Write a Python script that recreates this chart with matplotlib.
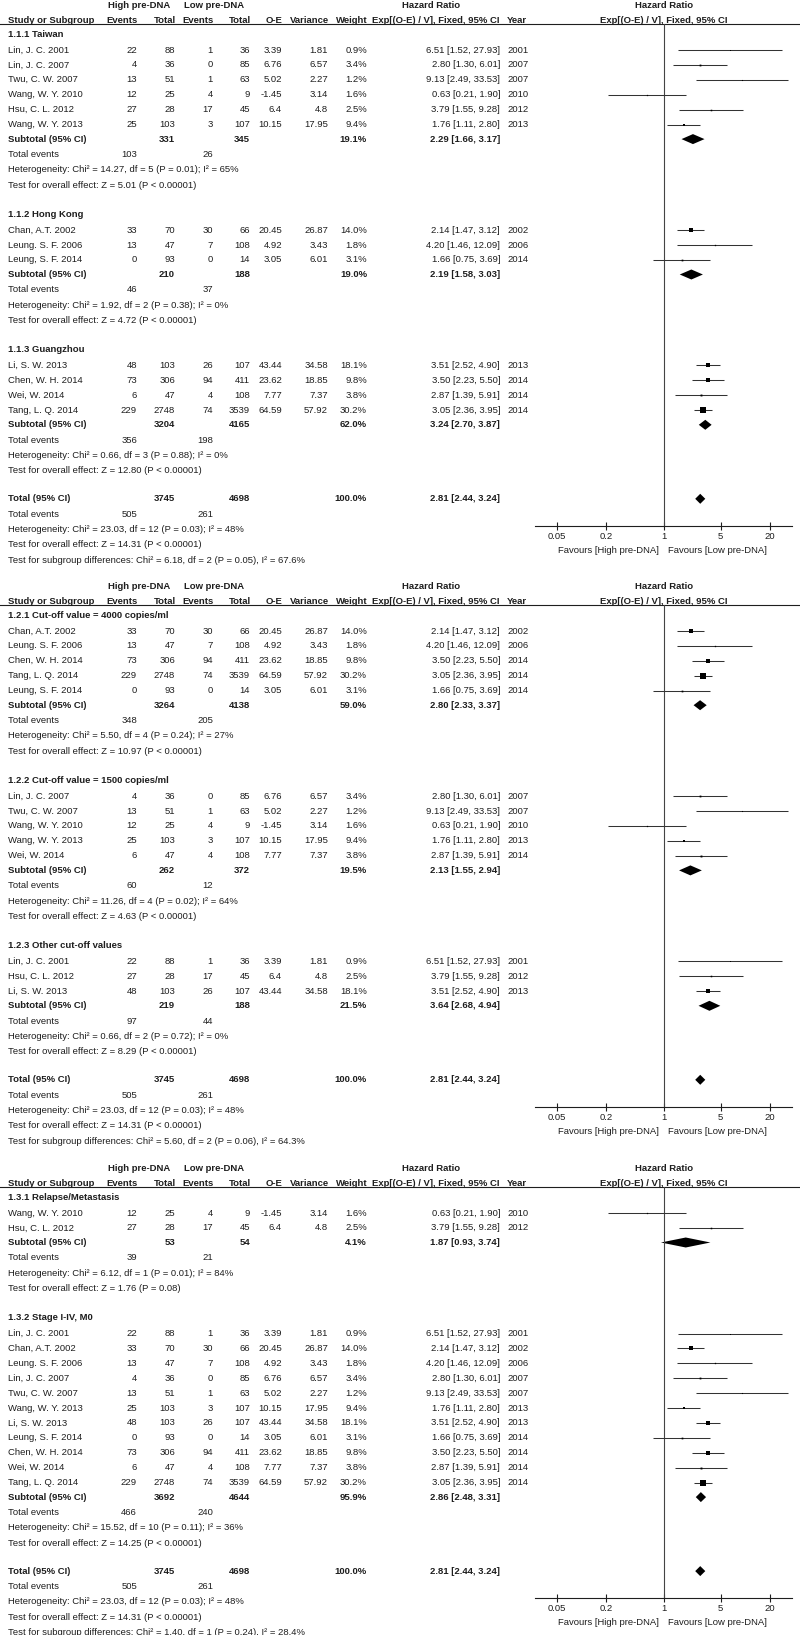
import matplotlib
matplotlib.use("Agg")
import matplotlib.pyplot as plt
import numpy as np

plt.rcParams["font.family"] = ["Liberation Sans", "DejaVu Sans"]

FS = 6.8
INK = "#1e1e1e"

# ---- study table (same 13 studies are reused in every panel) ----
study_names = [
    "Lin, J. C. 2001", "Lin, J. C. 2007", "Twu, C. W. 2007", "Wang, W. Y. 2010",
    "Hsu, C. L. 2012", "Wang, W. Y. 2013", "Chan, A.T. 2002", "Leung. S. F. 2006",
    "Leung, S. F. 2014", "Li, S. W. 2013", "Chen, W. H. 2014", "Wei, W. 2014",
    "Tang, L. Q. 2014",
]
high_events = [22, 4, 13, 12, 27, 25, 33, 13, 0, 48, 73, 6, 229]
high_total = [88, 36, 51, 25, 28, 103, 70, 47, 93, 103, 306, 47, 2748]
low_events = [1, 0, 1, 4, 17, 3, 30, 7, 0, 26, 94, 4, 74]
low_total = [36, 85, 63, 9, 45, 107, 66, 108, 14, 107, 411, 108, 3539]
o_minus_e = [3.39, 6.76, 5.02, -1.45, 6.4, 10.15, 20.45, 4.92, 3.05, 43.44, 23.62, 7.77, 64.59]
variance = [1.81, 6.57, 2.27, 3.14, 4.8, 17.95, 26.87, 3.43, 6.01, 34.58, 18.85, 7.37, 57.92]
weight = [0.9, 3.4, 1.2, 1.6, 2.5, 9.4, 14.0, 1.8, 3.1, 18.1, 9.8, 3.8, 30.2]
hazard_ratio = [6.51, 2.80, 9.13, 0.63, 3.79, 1.76, 2.14, 4.20, 1.66, 3.51, 3.50, 2.87, 3.05]
ci_low = [1.52, 1.30, 2.49, 0.21, 1.55, 1.11, 1.47, 1.46, 0.75, 2.52, 2.23, 1.39, 2.36]
ci_high = [27.93, 6.01, 33.53, 1.90, 9.28, 2.80, 3.12, 12.09, 3.69, 4.90, 5.50, 5.91, 3.95]
year = [2001, 2007, 2007, 2010, 2012, 2013, 2002, 2006, 2014, 2013, 2014, 2014, 2014]

# ---- panel 1: by region ----
p1_labels = ["1.1.1 Taiwan", "1.1.2 Hong Kong", "1.1.3 Guangzhou"]
p1_members = [[0, 1, 2, 3, 4, 5], [6, 7, 8], [9, 10, 11, 12]]
p1_totals = [(331, 345), (210, 188), (3204, 4165)]
p1_weights = [19.1, 19.0, 62.0]
p1_hr = [(2.29, 1.66, 3.17), (2.19, 1.58, 3.03), (3.24, 2.70, 3.87)]
p1_events = [(103, 26), (46, 37), (356, 198)]
p1_het = ["Chi² = 14.27, df = 5 (P = 0.01); I² = 65%",
          "Chi² = 1.92, df = 2 (P = 0.38); I² = 0%",
          "Chi² = 0.66, df = 3 (P = 0.88); I² = 0%"]
p1_z = ["Z = 5.01 (P < 0.00001)", "Z = 4.72 (P < 0.00001)", "Z = 12.80 (P < 0.00001)"]
p1_diff = "Chi² = 6.18, df = 2 (P = 0.05), I² = 67.6%"

# ---- panel 2: by cut-off value ----
p2_labels = ["1.2.1 Cut-off value = 4000 copies/ml", "1.2.2 Cut-off value = 1500 copies/ml",
             "1.2.3 Other cut-off values"]
p2_members = [[6, 7, 10, 12, 8], [1, 2, 3, 5, 11], [0, 4, 9]]
p2_totals = [(3264, 4138), (262, 372), (219, 188)]
p2_weights = [59.0, 19.5, 21.5]
p2_hr = [(2.80, 2.33, 3.37), (2.13, 1.55, 2.94), (3.64, 2.68, 4.94)]
p2_events = [(348, 205), (60, 12), (97, 44)]
p2_het = ["Chi² = 5.50, df = 4 (P = 0.24); I² = 27%",
          "Chi² = 11.26, df = 4 (P = 0.02); I² = 64%",
          "Chi² = 0.66, df = 2 (P = 0.72); I² = 0%"]
p2_z = ["Z = 10.97 (P < 0.00001)", "Z = 4.63 (P < 0.00001)", "Z = 8.29 (P < 0.00001)"]
p2_diff = "Chi² = 5.60, df = 2 (P = 0.06), I² = 64.3%"

# ---- panel 3: by stage ----
p3_labels = ["1.3.1 Relapse/Metastasis", "1.3.2 Stage I-IV, M0"]
p3_members = [[3, 4], [0, 6, 7, 1, 2, 5, 9, 8, 10, 11, 12]]
p3_totals = [(53, 54), (3692, 4644)]
p3_weights = [4.1, 95.9]
p3_hr = [(1.87, 0.93, 3.74), (2.86, 2.48, 3.31)]
p3_events = [(39, 21), (466, 240)]
p3_het = ["Chi² = 6.12, df = 1 (P = 0.01); I² = 84%",
          "Chi² = 15.52, df = 10 (P = 0.11); I² = 36%"]
p3_z = ["Z = 1.76 (P = 0.08)", "Z = 14.25 (P < 0.00001)"]
p3_diff = "Chi² = 1.40, df = 1 (P = 0.24), I² = 28.4%"

# ---- overall (identical in every panel) ----
total_n = (3745, 4698)
total_hr = (2.81, 2.44, 3.24)
total_events = (505, 261)
total_het = "Chi² = 23.03, df = 12 (P = 0.03); I² = 48%"
total_z = "Z = 14.31 (P < 0.00001)"

axis_ticks = [0.05, 0.2, 1, 5, 20]
axis_ticklabels = ["0.05", "0.2", "1", "5", "20"]

W, H = 800, 1635
COL = {"hi_ev": 137, "hi_tot": 175, "lo_ev": 213, "lo_tot": 250,
       "oe": 282, "var": 328, "wt": 367, "hr": 500}
YEAR_X = 507
PLOT_X0, PLOT_X1 = 535, 792
XLIM = (1 / 37.14, 37.14)
STEP = 14.9


def txt(ax, x, y, s, ha="left", bold=False):
    ax.text(x, y, s, ha=ha, va="center", fontsize=FS, color=INK,
            fontweight="bold" if bold else "normal")


def fmt_ci(hr, lo, hi):
    return f"{hr:.2f} [{lo:.2f}, {hi:.2f}]"


def draw_panel(fig, ax, y0, labels, members, totals, weights, hrs, events, het, z, diff):
    # column headers
    txt(ax, 139, y0, "High pre-DNA", ha="center", bold=True)
    txt(ax, 214, y0, "Low pre-DNA", ha="center", bold=True)
    txt(ax, 431, y0, "Hazard Ratio", ha="center", bold=True)
    txt(ax, 664, y0, "Hazard Ratio", ha="center", bold=True)
    y1 = y0 + 15
    txt(ax, 8, y1, "Study or Subgroup", bold=True)
    for key, s in [("hi_ev", "Events"), ("hi_tot", "Total"), ("lo_ev", "Events"),
                   ("lo_tot", "Total"), ("oe", "O-E"), ("var", "Variance"), ("wt", "Weight")]:
        txt(ax, COL[key] + 1, y1, s, ha="right", bold=True)
    txt(ax, COL["hr"], y1, "Exp[(O-E) / V], Fixed, 95% CI", ha="right", bold=True)
    txt(ax, YEAR_X, y1, "Year", bold=True)
    txt(ax, 664, y1, "Exp[(O-E) / V], Fixed, 95% CI", ha="center", bold=True)
    line_y = y0 + 19
    ax.plot([0, W], [line_y, line_y], color=INK, lw=0.8)

    marks = []  # (kind, y, payload) for the forest axes
    y = y0 + 29
    for g, label in enumerate(labels):
        txt(ax, 8, y, label, bold=True)
        y += 16
        for i in members[g]:
            txt(ax, 8, y, study_names[i])
            txt(ax, COL["hi_ev"], y, str(high_events[i]), ha="right")
            txt(ax, COL["hi_tot"], y, str(high_total[i]), ha="right")
            txt(ax, COL["lo_ev"], y, str(low_events[i]), ha="right")
            txt(ax, COL["lo_tot"], y, str(low_total[i]), ha="right")
            txt(ax, COL["oe"], y, str(o_minus_e[i]), ha="right")
            txt(ax, COL["var"], y, str(variance[i]), ha="right")
            txt(ax, COL["wt"], y, f"{weight[i]:.1f}%", ha="right")
            txt(ax, COL["hr"], y, fmt_ci(hazard_ratio[i], ci_low[i], ci_high[i]), ha="right")
            txt(ax, YEAR_X, y, str(year[i]))
            marks.append(("study", y, i))
            y += STEP
        y -= 0.3
        txt(ax, 8, y, "Subtotal (95% CI)", bold=True)
        txt(ax, COL["hi_tot"], y, str(totals[g][0]), ha="right", bold=True)
        txt(ax, COL["lo_tot"], y, str(totals[g][1]), ha="right", bold=True)
        txt(ax, COL["wt"], y, f"{weights[g]:.1f}%", ha="right", bold=True)
        txt(ax, COL["hr"], y, fmt_ci(*hrs[g]), ha="right", bold=True)
        marks.append(("diamond", y, hrs[g]))
        y += 15.4
        txt(ax, 8, y, "Total events")
        txt(ax, COL["hi_ev"], y, str(events[g][0]), ha="right")
        txt(ax, COL["lo_ev"], y, str(events[g][1]), ha="right")
        y += 15.3
        txt(ax, 8, y, "Heterogeneity: " + het[g])
        y += 15.3
        txt(ax, 8, y, "Test for overall effect: " + z[g])
        y += 29
    y -= 1
    txt(ax, 8, y, "Total (95% CI)", bold=True)
    txt(ax, COL["hi_tot"], y, str(total_n[0]), ha="right", bold=True)
    txt(ax, COL["lo_tot"], y, str(total_n[1]), ha="right", bold=True)
    txt(ax, COL["wt"], y, "100.0%", ha="right", bold=True)
    txt(ax, COL["hr"], y, fmt_ci(*total_hr), ha="right", bold=True)
    marks.append(("diamond", y, total_hr))
    axis_y = y + 27
    y += 15.4
    txt(ax, 8, y, "Total events")
    txt(ax, COL["hi_ev"], y, str(total_events[0]), ha="right")
    txt(ax, COL["lo_ev"], y, str(total_events[1]), ha="right")
    y += 15.3
    txt(ax, 8, y, "Heterogeneity: " + total_het)
    y += 15.3
    txt(ax, 8, y, "Test for overall effect: " + total_z)
    y += 15.3
    txt(ax, 8, y, "Test for subgroup differences: " + diff)

    # forest plot area
    fax = fig.add_axes([PLOT_X0 / W, 1 - axis_y / H,
                        (PLOT_X1 - PLOT_X0) / W, (axis_y - line_y) / H])
    fax.set_xscale("log")
    fax.set_xlim(*XLIM)
    fax.set_ylim(axis_y, line_y)
    fax.patch.set_visible(False)
    for side in ["top", "left", "right"]:
        fax.spines[side].set_visible(False)
    fax.spines["bottom"].set_color(INK)
    fax.spines["bottom"].set_linewidth(0.8)
    fax.set_xticks(axis_ticks)
    fax.set_xticklabels(axis_ticklabels)
    fax.xaxis.set_minor_locator(matplotlib.ticker.NullLocator())
    fax.tick_params(axis="x", direction="inout", length=6, width=0.8, color=INK,
                    labelsize=FS, labelcolor=INK, pad=1.5)
    fax.set_yticks([])
    fax.axvline(1, color="#444444", lw=0.8)
    for kind, yy, payload in marks:
        if kind == "study":
            i = payload
            fax.plot([ci_low[i], ci_high[i]], [yy, yy], color="#333333", lw=0.75,
                     solid_capstyle="butt", clip_on=False)
            fax.plot(hazard_ratio[i], yy, marker="s", ms=0.7 * np.sqrt(weight[i]),
                     color="black", mew=0, clip_on=False)
        else:
            hr, lo, hi = payload
            fax.fill([lo, hr, hi, hr], [yy, yy - 5, yy, yy + 5], color="black", lw=0)

    txt(ax, 659, axis_y + 24.5, "Favours [High pre-DNA]", ha="right")
    txt(ax, 668, axis_y + 24.5, "Favours [Low pre-DNA]")


fig = plt.figure(figsize=(W / 100, H / 100), dpi=100)
ax = fig.add_axes([0, 0, 1, 1])
ax.set_xlim(0, W)
ax.set_ylim(H, 0)
ax.axis("off")

draw_panel(fig, ax, 5, p1_labels, p1_members, p1_totals, p1_weights, p1_hr,
           p1_events, p1_het, p1_z, p1_diff)
draw_panel(fig, ax, 586, p2_labels, p2_members, p2_totals, p2_weights, p2_hr,
           p2_events, p2_het, p2_z, p2_diff)
draw_panel(fig, ax, 1168, p3_labels, p3_members, p3_totals, p3_weights, p3_hr,
           p3_events, p3_het, p3_z, p3_diff)

fig.savefig("out.png", dpi=100)
